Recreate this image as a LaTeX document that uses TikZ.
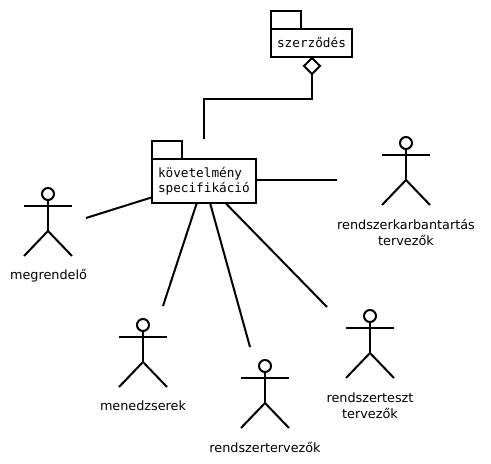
\documentclass[tikz,border=0pt]{standalone}
\usepackage{fontspec}
\setmainfont{DejaVu Sans}
\setmonofont{DejaVu Sans Mono}
\usetikzlibrary{shapes.geometric}
\tikzset{
  line/.style={line width=2pt,draw=black},
  pkgbody/.style={line,rectangle,fill=white,inner sep=0pt,outer sep=0pt,font=\ttfamily\fontsize{12.7}{15.5}\selectfont},
  pkgtab/.style={line,rectangle,fill=white,inner sep=0pt,outer sep=0pt,minimum width=30pt,minimum height=18pt},
  aggr/.style={line,diamond,aspect=1,fill=white,inner sep=0pt,outer sep=0pt,minimum width=16pt,minimum height=16pt},
  actorlabel/.style={align=center,inner sep=0pt,font=\fontsize{12.8}{16}\selectfont},
  actorhead/.style={line,circle,inner sep=0pt,outer sep=0pt,minimum size=12pt},
  pics/actor/.style={code={
    \node[actorhead] (-head) at (0,0) {};
    \draw[line] (-head.south) -- (0,37);
    \draw[line] (-24,12) -- (24,12);
    \draw[line] (-24,62) -- (0,37) -- (24,62);
  }}
}
\begin{document}
\begin{tikzpicture}[x=1pt,y=-1pt]
\useasboundingbox (0,0) rectangle (491,464);
% packages
\node[pkgtab] (tabA) at (286,20) {};
\node[pkgbody,minimum width=81pt,minimum height=28pt] (contract) at (311.5,43) {szerződés};
\node[aggr] (dia) at (312,66) {};
\node[pkgtab] (tabB) at (167,150) {};
\node[pkgbody,minimum width=104pt,minimum height=44pt,text width=92pt,align=left] (req) at (204,181) {követelmény\\specifikáció};
% actors
\pic (a1) at (48,194) {actor};
\pic (a2) at (143,325) {actor};
\pic (a3) at (265,366) {actor};
\pic (a4) at (370,316) {actor};
\pic (a5) at (406,143) {actor};
% labels
\node[actorlabel] (l1) at (48.5,275.5) {megrendelő};
\node[actorlabel] (l2) at (143,406) {menedzserek};
\node[actorlabel] (l3) at (265,447) {rendszertervezők};
\node[actorlabel] (l4) at (370,405.5) {rendszerteszt\\tervezők};
\node[actorlabel] (l5) at (406,232.5) {rendszerkarbantartás\\tervezők};
% free connector ends
\coordinate (c1) at (86,218);
\coordinate (c2) at (163,306);
\coordinate (c3) at (250,347);
\coordinate (c4) at (327,307);
\coordinate (c5) at (337,180);
\coordinate (top) at (204,139);
\coordinate (bend) at (204,99);
% connectors
\draw[line] (dia.south) |- (bend) -- (top);
\draw[line] (c1) -- (req);
\draw[line] (c2) -- (req);
\draw[line] (c3) -- (req);
\draw[line] (c4) -- (req);
\draw[line] (c5) -- (req.east |- c5);
\end{tikzpicture}
\end{document}
